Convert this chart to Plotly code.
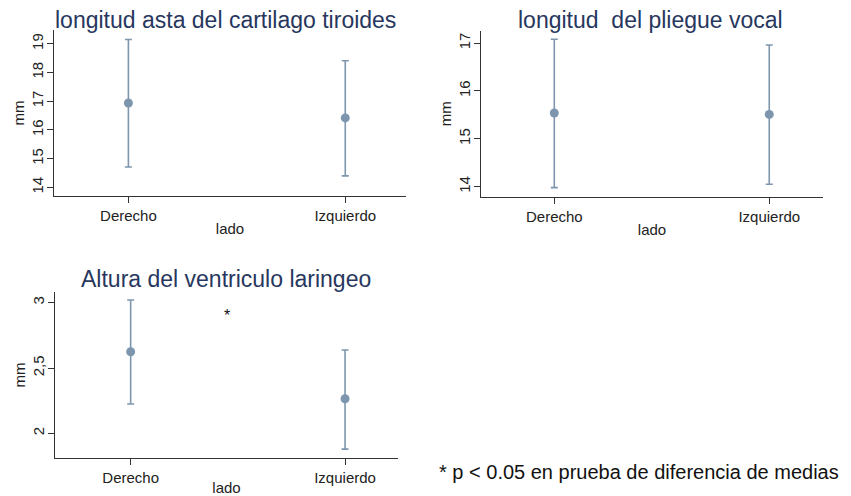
import plotly.graph_objects as go

categories = ["Derecho", "Izquierdo"]

# Panel 1: longitud asta del cartilago tiroides
asta_mean = [16.94, 16.42]
asta_low = [14.71, 14.40]
asta_up = [19.15, 18.41]

# Panel 2: longitud del pliegue vocal
pliegue_mean = [15.54, 15.51]
pliegue_low = [13.98, 14.05]
pliegue_up = [17.08, 16.96]

# Panel 3: Altura del ventriculo laringeo
ventr_mean = [2.625, 2.265]
ventr_low = [2.225, 1.88]
ventr_up = [3.02, 2.638]

titles = ["longitud asta del cartilago tiroides", "longitud  del pliegue vocal", "Altura del ventriculo laringeo"]
ticks1 = [14, 15, 16, 17, 18, 19]
ticks2 = [14, 15, 16, 17]
ticks3 = [2, 2.5, 3]
ticks3_text = ["2", "2,5", "3"]

OFF = 8  # page body margin
W, H = 851 - OFF, 496 - OFF
COL = "#7d96ad"
FONT = "Liberation Sans, Arial, sans-serif"

fig = go.Figure()

panels = [
    (asta_mean, asta_low, asta_up, "x", "y"),
    (pliegue_mean, pliegue_low, pliegue_up, "x2", "y2"),
    (ventr_mean, ventr_low, ventr_up, "x3", "y3"),
]
for mean, low, up, xa, ya in panels:
    fig.add_trace(go.Scatter(
        x=[0, 1], y=mean, mode="markers",
        marker=dict(color=COL, size=9),
        error_y=dict(type="data", symmetric=False,
                     array=[u - m for u, m in zip(up, mean)],
                     arrayminus=[m - l for m, l in zip(mean, low)],
                     color=COL, thickness=1.6, width=3.5),
        xaxis=xa, yaxis=ya, showlegend=False, hoverinfo="skip"))

def px_x(p):
    return (p - OFF) / W

def px_y(p):
    return 1 - (p - OFF) / H

axis_common = dict(showline=True, linecolor="#333333", linewidth=1, ticks="outside",
                   ticklen=6, tickcolor="#333333", showgrid=False, zeroline=False,
                   automargin=False,
                   tickfont=dict(family=FONT, size=15, color="#222222"))

xdoms = [[px_x(54), px_x(406)], [px_x(481), px_x(823)], [px_x(55), px_x(398)]]
ydoms = [[px_y(196), px_y(30)], [px_y(196.7), px_y(30.7)], [px_y(458.3), px_y(291.7)]]
xranges = [[-0.343, 1.28], [-0.341, 1.25], [-0.353, 1.247]]
yranges = [[13.70, 19.48], [13.79, 17.26], [1.81, 3.084]]
yticks = [(ticks1, [str(t) for t in ticks1]), (ticks2, [str(t) for t in ticks2]), (ticks3, ticks3_text)]

layout = dict(width=W, height=H, margin=dict(l=0, r=0, t=0, b=0, autoexpand=False),
              template="none",
              paper_bgcolor="white", plot_bgcolor="white", font=dict(family=FONT))
for i in range(3):
    sx = "" if i == 0 else str(i + 1)
    layout["xaxis" + sx] = dict(axis_common, domain=xdoms[i], range=xranges[i],
                                anchor="y" + sx, tickvals=[0, 1], ticktext=categories,
                                title=dict(text="lado", standoff=0,
                                           font=dict(family=FONT, size=15, color="#222222")))
    layout["yaxis" + sx] = dict(axis_common, domain=ydoms[i], range=yranges[i],
                                anchor="x" + sx, tickvals=yticks[i][0], ticktext=yticks[i][1],
                                tickangle=-90, ticklabelstandoff=-2,
                                title=dict(text="mm", standoff=0,
                                           font=dict(family=FONT, size=15, color="#222222")))
fig.update_layout(**layout)

title_pos = [(225, 20), (650, 19.5), (226, 279)]
for t, (cx, cy) in zip(titles, title_pos):
    fig.add_annotation(text=t, x=px_x(cx), y=px_y(cy), xref="paper", yref="paper",
                       showarrow=False, xanchor="center", yanchor="middle",
                       font=dict(family=FONT, size=23, color="#27375e"))

fig.add_annotation(text="*", x=0.45, y=2.90, xref="x3", yref="y3", showarrow=False,
                   font=dict(family=FONT, size=16, color="#111111"))
fig.add_annotation(text="* p < 0.05 en prueba de diferencia de medias", x=px_x(437), y=px_y(472),
                   xref="paper", yref="paper", showarrow=False, xanchor="left", yanchor="middle",
                   font=dict(family=FONT, size=20, color="#111111"))

fig.write_html("out.html")
